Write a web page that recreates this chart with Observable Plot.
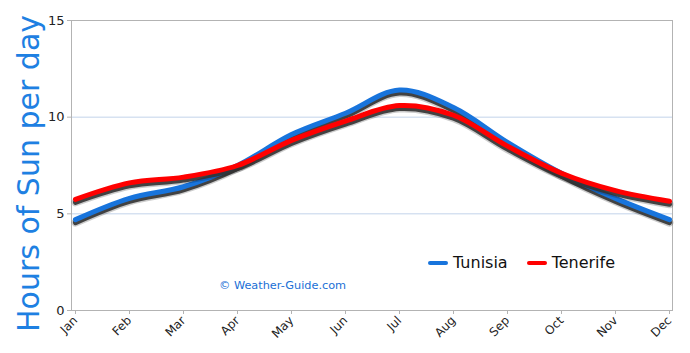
<!DOCTYPE html>
<html>
<head>
<meta charset="utf-8">
<script src="https://cdn.jsdelivr.net/npm/d3@7"></script>
<script src="https://cdn.jsdelivr.net/npm/@observablehq/plot@0.6"></script>
<style>
  html, body { margin: 0; padding: 0; background: #fff; }
  #wrap { position: relative; width: 690px; height: 353px; font-family: "DejaVu Sans", sans-serif; }
  .legend { position: absolute; top: 253px; left: 428px; display: flex; align-items: center; font-size: 16px; color: #111; }
  .legend .sw { display: inline-block; width: 20px; height: 4px; border-radius: 2px; margin-right: 5px; }
  .legend .item { display: flex; align-items: center; margin-right: 19px; }
  .mark { position: absolute; left: 219px; top: 279px; font-size: 11.3px; color: #1a6fd6; }
</style>
</head>
<body>
<div id="wrap"></div>
<script>
const months = ["Jan","Feb","Mar","Apr","May","Jun","Jul","Aug","Sep","Oct","Nov","Dec"];
const tunisia  = [4.7, 5.8, 6.4, 7.5, 9.1, 10.2, 11.4, 10.5, 8.7, 7.1, 5.8, 4.7];
const tenerife = [5.75, 6.6, 6.9, 7.5, 8.8, 9.8, 10.6, 10.1, 8.5, 7.1, 6.2, 5.65];
const seriesNames = ["Tunisia", "Tenerife"];
const seriesColors = ["#1874dc", "#ff0000"];
const yTicks = [0, 5, 10, 15];
const yLabel = "Hours of Sun per day";

const table = [];
[tunisia, tenerife].forEach((vals, s) => {
  vals.forEach((v, i) => table.push({month: months[i], series: seriesNames[s], value: v}));
});

const lineMarks = [];
seriesNames.forEach((name, s) => {
  const d = table.filter(r => r.series === name);
  lineMarks.push(Plot.line(d, {x: "month", y: "value", stroke: "#000", strokeWidth: 8, curve: "catmull-rom", dy: 3, strokeOpacity: 0.2}));
  lineMarks.push(Plot.line(d, {x: "month", y: "value", stroke: "#333", strokeWidth: 5, curve: "catmull-rom", dy: 3, strokeOpacity: 0.9}));
  lineMarks.push(Plot.line(d, {x: "month", y: "value", stroke: seriesColors[s], strokeWidth: 5, curve: "catmull-rom"}));
});

const chart = Plot.plot({
  width: 690,
  height: 353,
  marginLeft: 71,
  marginRight: 18,
  marginTop: 20,
  marginBottom: 43,
  style: {fontFamily: "DejaVu Sans, sans-serif", background: "#fff"},
  x: {type: "point", domain: months, padding: 0},
  y: {domain: [0, 15]},
  marks: [
    Plot.gridY([5, 10], {stroke: "#c2d3ea", strokeOpacity: 1}),
    Plot.frame({stroke: "#b3b3b3"}),
    Plot.axisY(yTicks, {tickSize: 4, stroke: "#b3b3b3", fill: "#222", fontSize: 13, tickPadding: 3, label: null}),
    Plot.axisX(months, {tickSize: 4, stroke: "#b3b3b3", fill: "#222", fontSize: 12, tickRotate: -45, tickPadding: 4, label: null}),
    ...lineMarks,
    Plot.text([yLabel], {frameAnchor: "left", text: d => d, rotate: -90, textAnchor: "middle", dx: -42, dy: 8, fill: "#1e80e2", fontSize: 30, ariaLabel: "ylabel"})
  ]
});

const svg = d3.select(chart);
svg.selectAll('g[aria-label="ylabel"] text').attr("textLength", 315).attr("lengthAdjust", "spacingAndGlyphs");

const wrap = document.getElementById("wrap");
wrap.appendChild(chart);

const legend = document.createElement("div");
legend.className = "legend";
seriesNames.forEach((name, s) => {
  const item = document.createElement("div");
  item.className = "item";
  const sw = document.createElement("span");
  sw.className = "sw";
  sw.style.background = seriesColors[s];
  item.appendChild(sw);
  item.appendChild(document.createTextNode(name));
  legend.appendChild(item);
});
wrap.appendChild(legend);

const mark = document.createElement("div");
mark.className = "mark";
mark.textContent = "©  Weather-Guide.com";
wrap.appendChild(mark);
</script>
</body>
</html>
